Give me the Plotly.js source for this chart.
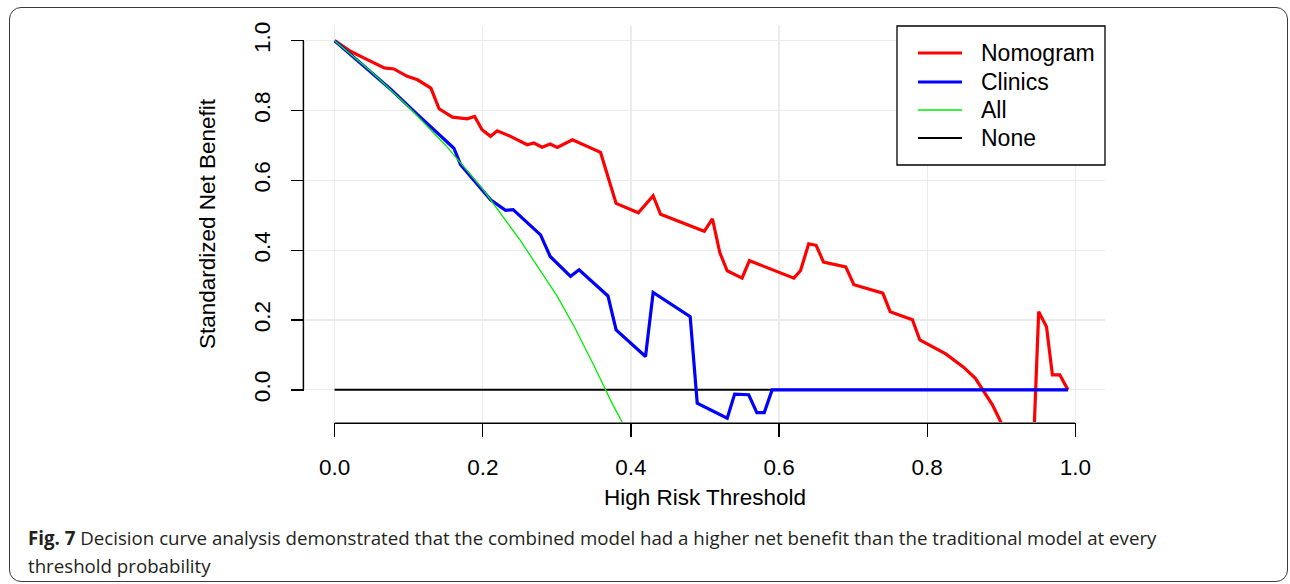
<!DOCTYPE html>
<html>
<head>
<meta charset="utf-8">
<script src="https://cdn.plot.ly/plotly-3.0.1.min.js"></script>
<style>
  html, body { margin: 0; padding: 0; background: #ffffff; }
  #wrap { position: relative; width: 1290px; height: 584px; overflow: hidden; }
  #chart { position: absolute; left: 0; top: 0; width: 1290px; height: 584px; }
  #frame { position: absolute; left: 9px; top: 7px; width: 1277px; height: 573px;
           border: 1.6px solid #3a3a3a; border-radius: 12px; pointer-events: none; }
</style>
</head>
<body>
<div id="wrap">
  <div id="chart"></div>
  <div id="frame"></div>
</div>
<script>
// ---- data ----
var nomogramX = [0, 0.022, 0.040, 0.067, 0.080, 0.098, 0.112, 0.130, 0.141, 0.159, 0.179, 0.189, 0.199, 0.2105, 0.2195, 0.2375, 0.260, 0.269, 0.280, 0.291, 0.3005, 0.321, 0.359, 0.380, 0.410, 0.430, 0.440, 0.499, 0.510, 0.520, 0.530, 0.550, 0.560, 0.620, 0.629, 0.640, 0.650, 0.660, 0.690, 0.701, 0.740, 0.750, 0.780, 0.790, 0.825, 0.849, 0.865, 0.876, 0.888, 0.900, 0.910, 0.920, 0.930, 0.940, 0.9505, 0.961, 0.969, 0.979, 0.990];
var nomogramY = [1.000, 0.969, 0.950, 0.922, 0.919, 0.898, 0.888, 0.864, 0.805, 0.781, 0.776, 0.783, 0.745, 0.726, 0.742, 0.726, 0.702, 0.707, 0.695, 0.704, 0.694, 0.716, 0.680, 0.534, 0.507, 0.556, 0.503, 0.454, 0.490, 0.393, 0.341, 0.320, 0.370, 0.320, 0.342, 0.418, 0.414, 0.366, 0.352, 0.301, 0.277, 0.224, 0.201, 0.143, 0.103, 0.065, 0.033, -0.002, -0.043, -0.095, -0.140, -0.200, -0.280, -0.350, 0.224, 0.181, 0.043, 0.043, 0.000];

var clinicsX = [0, 0.076, 0.112, 0.152, 0.161, 0.170, 0.2105, 0.2308, 0.241, 0.260, 0.278, 0.291, 0.3185, 0.330, 0.369, 0.380, 0.4197, 0.430, 0.480, 0.4895, 0.530, 0.540, 0.559, 0.570, 0.580, 0.5906, 0.990];
var clinicsY = [1.000, 0.860, 0.788, 0.712, 0.692, 0.645, 0.544, 0.514, 0.516, 0.479, 0.444, 0.382, 0.325, 0.344, 0.269, 0.172, 0.0955, 0.279, 0.210, -0.038, -0.081, -0.012, -0.014, -0.065, -0.065, 0.000, 0.000];

var allX = [0, 0.05, 0.10, 0.15, 0.20, 0.25, 0.30, 0.325, 0.35, 0.375, 0.39];
var allY = [1.000, 0.910, 0.810, 0.700, 0.575, 0.430, 0.270, 0.175, 0.070, -0.040, -0.100];

var noneX = [0, 0.99];
var noneY = [0, 0];

var seriesNames = ['Nomogram', 'Clinics', 'All', 'None'];
var seriesColors = ['#ff0000', '#0000ff', '#00ee00', '#000000'];
var seriesWidths = [3.2, 3.2, 1.3, 2];
var tickVals = [0, 0.2, 0.4, 0.6, 0.8, 1.0];
var tickText = ['0.0', '0.2', '0.4', '0.6', '0.8', '1.0'];

var xTitle = 'High Risk Threshold';
var yTitle = 'Standardized Net Benefit';
var captionLine1 = '<b>Fig. 7</b> Decision curve analysis demonstrated that the combined model had a higher net benefit than the traditional model at every';
var captionLine2 = 'threshold probability';

// ---- traces ----
var seriesX = [nomogramX, clinicsX, allX, noneX];
var seriesY = [nomogramY, clinicsY, allY, noneY];
var drawOrder = [3, 0, 1, 2];
var traces = drawOrder.map(function (i) {
  return {x: seriesX[i], y: seriesY[i], name: seriesNames[i], mode: 'lines',
          showlegend: false, line: {color: seriesColors[i], width: seriesWidths[i]}};
});

var FONT = 'Liberation Sans, Arial, sans-serif';
var FS = 22.5;
var xRange = [-0.04, 1.04];
var yRange = [-0.092, 1.042];
function xFrac(v) { return (v - xRange[0]) / (xRange[1] - xRange[0]); }
function yFrac(v) { return (v - yRange[0]) / (yRange[1] - yRange[0]); }
var tMin = tickVals[0], tMax = tickVals[tickVals.length - 1];

// ---- R-style detached axis lines + legend box ----
var shapes = [
  {type: 'line', xref: 'paper', yref: 'paper', x0: xFrac(tMin), x1: xFrac(tMax), y0: -0.003, y1: -0.003,
   line: {color: '#000000', width: 1.5}},
  {type: 'line', xref: 'paper', yref: 'paper', x0: -0.002, x1: -0.002, y0: yFrac(tMin), y1: yFrac(tMax),
   line: {color: '#000000', width: 1.5}},
  {type: 'rect', xref: 'paper', yref: 'paper', x0: 0.74, x1: 1.0, y0: 0.649, y1: 1.0,
   fillcolor: '#ffffff', line: {color: '#000000', width: 1.3}, layer: 'above'}
];
var legendRowY = [0.9318, 0.8586, 0.7879, 0.7172];
var annotations = [];
seriesNames.forEach(function (n, i) {
  shapes.push({type: 'line', xref: 'paper', yref: 'paper', x0: 0.76625, x1: 0.82125,
               y0: legendRowY[i], y1: legendRowY[i], layer: 'above',
               line: {color: seriesColors[i], width: seriesWidths[i]}});
  annotations.push({text: n, xref: 'paper', yref: 'paper', x: 0.843, y: legendRowY[i],
                    xanchor: 'left', yanchor: 'middle', showarrow: false,
                    font: {family: FONT, size: 23, color: '#000000'}});
});
annotations.push(
  {text: captionLine1, xref: 'paper', yref: 'paper', x: -0.34875, y: -0.2929,
   xanchor: 'left', yanchor: 'middle', showarrow: false, align: 'left',
   font: {family: 'Open Sans, Noto Sans, sans-serif', size: 18.7, color: '#231f20'}},
  {text: captionLine2, xref: 'paper', yref: 'paper', x: -0.34875, y: -0.3636,
   xanchor: 'left', yanchor: 'middle', showarrow: false, align: 'left',
   font: {family: 'Open Sans, Noto Sans, sans-serif', size: 18.7, color: '#231f20'}}
);

var layout = {
  width: 1290, height: 584,
  margin: {l: 305, r: 185, t: 26, b: 162, pad: 0},
  paper_bgcolor: 'rgba(0,0,0,0)',
  plot_bgcolor: 'rgba(0,0,0,0)',
  font: {family: FONT, color: '#000000', size: FS},
  showlegend: false,
  xaxis: {
    range: xRange, tickvals: tickVals, ticktext: tickText,
    showgrid: true, gridcolor: '#ebebeb', gridwidth: 1.2,
    zeroline: false, showline: false,
    ticks: 'outside', ticklen: 14, tickwidth: 1.3, tickcolor: '#000000',
    ticklabelstandoff: 11,
    tickfont: {family: FONT, size: FS, color: '#000000'},
    title: {text: xTitle, font: {family: FONT, size: FS, color: '#000000'}, standoff: 10},
    automargin: false, fixedrange: true
  },
  yaxis: {
    range: yRange, tickvals: tickVals, ticktext: tickText,
    tickangle: -90,
    showgrid: true, gridcolor: '#ebebeb', gridwidth: 1.2,
    zeroline: false, showline: false,
    ticks: 'outside', ticklen: 13, tickwidth: 1.3, tickcolor: '#000000',
    ticklabelstandoff: 12,
    tickfont: {family: FONT, size: FS, color: '#000000'},
    title: {text: yTitle, font: {family: FONT, size: FS, color: '#000000'}, standoff: 28},
    automargin: false, fixedrange: true
  },
  shapes: shapes,
  annotations: annotations
};

Plotly.newPlot('chart', traces, layout, {displayModeBar: false, staticPlot: true});
</script>
</body>
</html>
